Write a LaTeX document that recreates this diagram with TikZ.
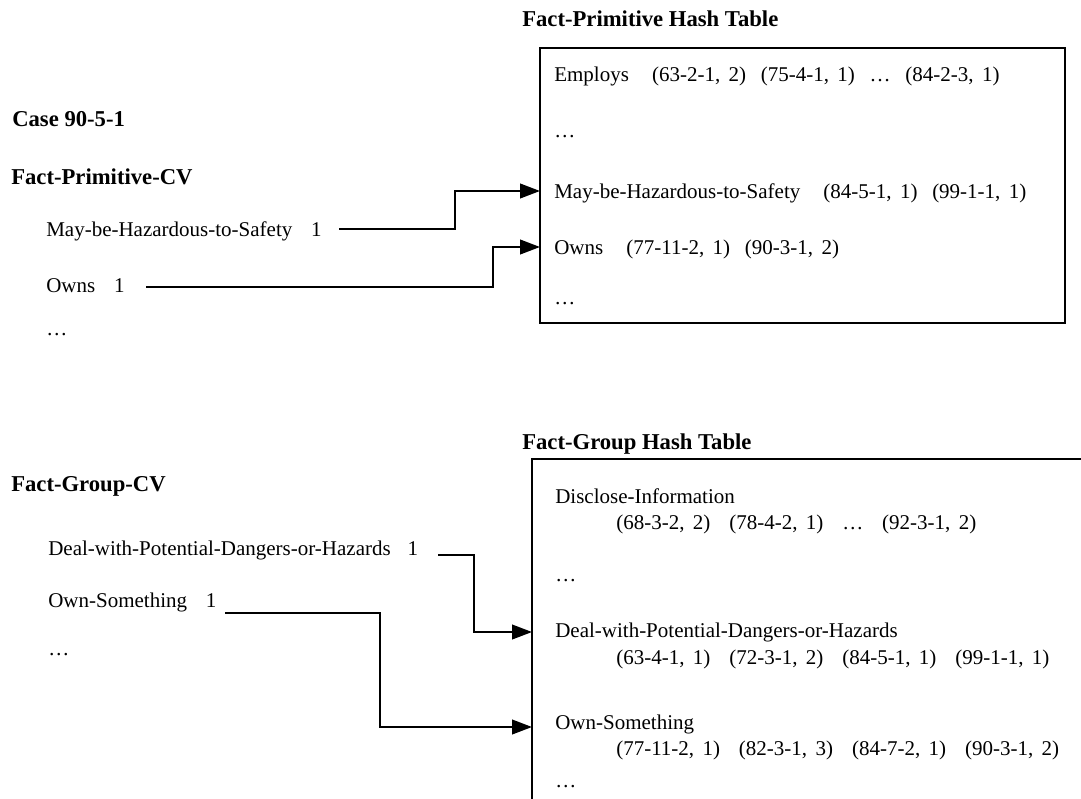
\documentclass[tikz,border=0pt]{standalone}
\usepackage{fontspec}
\setmainfont{Liberation Serif}
\usetikzlibrary{arrows.meta,positioning}
\newcommand{\fpair}[2]{(#1,\hspace{0.4em}#2)}
\newcommand{\tgap}{\hspace{0.7em}}
\newcommand{\wgap}{\hspace{0.9em}}
\newcommand{\ngap}{\hspace{1.1em}}

\begin{document}
\begin{tikzpicture}[x=0.75pt,y=-0.75pt,
	every node/.style={inner sep=0pt,anchor=base west,font=\fontsize{15.75}{18}\selectfont},
	head/.style={font=\fontsize{17}{20}\selectfont\bfseries},
	tablebox/.style={line width=1.8pt},
	link/.style={line width=1.5pt,-{Triangle[length=15pt,width=11pt]}}]
	\path[use as bounding box,clip] (0,0) rectangle (1081,799);
	% fact-primitive part
	\node[head] (case)  at (12,126)  {Case 90-5-1};
	\node[head] (fpcv)  at (11,184)  {Fact-Primitive-CV};
	\node       (cvmay) at (46,236)  {May-be-Hazardous-to-Safety\hspace{0.9em}1};
	\node       (cvown) at (46,292)  {Owns\hspace{0.9em}1};
	\node       (cvdot) at (46,335)  {…};
	\node[head] (fpht)  at (522,27)  {Fact-Primitive Hash Table};
	\draw[tablebox] (540,48) rectangle (1065,323);
	\node (pemp)  at (554,82)  {Employs\ngap\fpair{63-2-1}{2}\tgap\fpair{75-4-1}{1}\tgap…\tgap\fpair{84-2-3}{1}};
	\node (pdot1) at (554,137) {…};
	\node (pmay)  at (554,198) {May-be-Hazardous-to-Safety\ngap\fpair{84-5-1}{1}\tgap\fpair{99-1-1}{1}};
	\node (pown)  at (554,254) {Owns\ngap\fpair{77-11-2}{1}\tgap\fpair{90-3-1}{2}};
	\node (pdot2) at (554,304) {…};
	\coordinate (smay) at (339,229);
	\coordinate (sown) at (146,287);
	\coordinate (tmay) at (540,191);
	\coordinate (town) at (540,247);
	\draw[link] (smay) -- ++(116,0) |- (tmay);
	\draw[link] (sown) -- ++(347,0) |- (town);
	% fact-group part
	\node[head] (fgcv)  at (11,491)  {Fact-Group-CV};
	\node       (cvdeal) at (48,555) {Deal-with-Potential-Dangers-or-Hazards\hspace{0.8em}1};
	\node       (cvsome) at (48,607) {Own-Something\hspace{0.9em}1};
	\node       (cvdot2) at (48,655) {…};
	\node[head] (fght)  at (522,449) {Fact-Group Hash Table};
	\draw[tablebox] (532,820) |- (1100,459);
	\node (gdis)   at (555,503) {Disclose-Information};
	\node (gdisl)  at (616,529) {\fpair{68-3-2}{2}\wgap\fpair{78-4-2}{1}\wgap…\wgap\fpair{92-3-1}{2}};
	\node (gdot1)  at (555,581) {…};
	\node (gdeal)  at (555,637) {Deal-with-Potential-Dangers-or-Hazards};
	\node (gdeall) at (616,664) {\fpair{63-4-1}{1}\wgap\fpair{72-3-1}{2}\wgap\fpair{84-5-1}{1}\wgap\fpair{99-1-1}{1}};
	\node (gsome)  at (555,729) {Own-Something};
	\node (gsomel) at (616,755) {\fpair{77-11-2}{1}\wgap\fpair{82-3-1}{3}\wgap\fpair{84-7-2}{1}\wgap\fpair{90-3-1}{2}};
	\node (gdot2)  at (555,787) {…};
	\coordinate (sdeal) at (438,555);
	\coordinate (ssome) at (225,613);
	\coordinate (tdeal) at (532,632);
	\coordinate (tsome) at (532,727);
	\draw[link] (sdeal) -- ++(36,0) |- (tdeal);
	\draw[link] (ssome) -- ++(155,0) |- (tsome);
\end{tikzpicture}
\end{document}
